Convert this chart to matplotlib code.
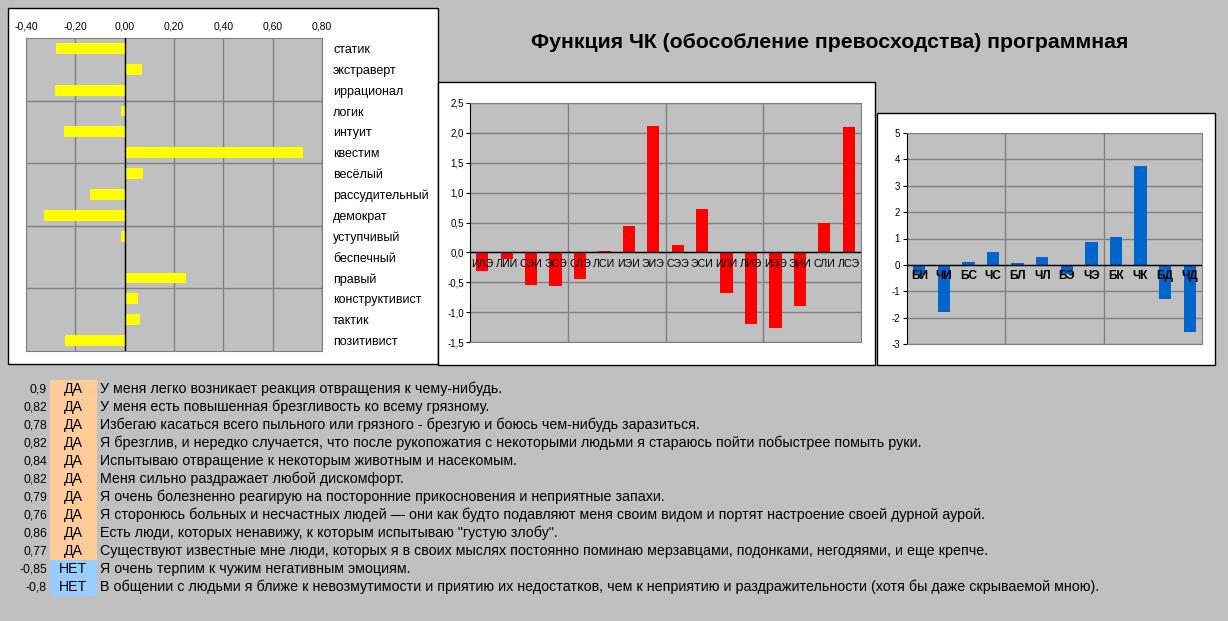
import numpy as np
import matplotlib
matplotlib.use('Agg')
import matplotlib.pyplot as plt
from matplotlib.patches import Rectangle

plt.rcParams['font.family'] = ['Liberation Sans', 'DejaVu Sans']
plt.rcParams['axes.unicode_minus'] = False

W, H = 1228, 621

# признаки Рейнина
traits = ['статик', 'экстраверт', 'иррационал', 'логик', 'интуит', 'квестим',
          'весёлый', 'рассудительный', 'демократ', 'уступчивый', 'беспечный',
          'правый', 'конструктивист', 'тактик', 'позитивист']
trait_vals = [-0.28, 0.072, -0.283, -0.014, -0.246, 0.721, 0.076, -0.14,
              -0.328, -0.015, 0.002, 0.248, 0.056, 0.061, -0.242]

# типы
types = ['ИЛЭ', 'ЛИИ', 'СЭИ', 'ЭСЭ', 'СЛЭ', 'ЛСИ', 'ИЭИ', 'ЭИЭ',
         'СЭЭ', 'ЭСИ', 'ИЛИ', 'ЛИЭ', 'ИЭЭ', 'ЭИИ', 'СЛИ', 'ЛСЭ']
type_vals = [-0.31, -0.11, -0.54, -0.56, -0.445, 0.02, 0.445, 2.11,
             0.13, 0.73, -0.68, -1.195, -1.26, -0.895, 0.495, 2.10]

# функции
funcs = ['БИ', 'ЧИ', 'БС', 'ЧС', 'БЛ', 'ЧЛ', 'БЭ', 'ЧЭ', 'БК', 'ЧК', 'БД', 'ЧД']
func_vals = [-0.4, -1.77, 0.1, 0.505, 0.06, 0.29, -0.33, 0.86, 1.05, 3.74, -1.31, -2.55]

title = 'Функция ЧК (обособление превосходства) программная'

# вопросы
scores = [0.9, 0.82, 0.78, 0.82, 0.84, 0.82, 0.79, 0.76, 0.86, 0.77, -0.85, -0.8]
answers = ['ДА', 'ДА', 'ДА', 'ДА', 'ДА', 'ДА', 'ДА', 'ДА', 'ДА', 'ДА', 'НЕТ', 'НЕТ']
statements = [
    'У меня легко возникает реакция отвращения к чему-нибудь.',
    'У меня есть повышенная брезгливость ко всему грязному.',
    'Избегаю касаться всего пыльного или грязного - брезгую и боюсь чем-нибудь заразиться.',
    'Я брезглив, и нередко случается, что после рукопожатия с некоторыми людьми я стараюсь пойти побыстрее помыть руки.',
    'Испытываю отвращение к некоторым животным и насекомым.',
    'Меня сильно раздражает любой дискомфорт.',
    'Я очень болезненно реагирую на посторонние прикосновения и неприятные запахи.',
    'Я сторонюсь больных и несчастных людей — они как будто подавляют меня своим видом и портят настроение своей дурной аурой.',
    'Есть люди, которых ненавижу, к которым испытываю "густую злобу".',
    'Существуют известные мне люди, которых я в своих мыслях постоянно поминаю мерзавцами, подонками, негодяями, и еще крепче.',
    'Я очень терпим к чужим негативным эмоциям.',
    'В общении с людьми я ближе к невозмутимости и приятию их недостатков, чем к неприятию и раздражительности (хотя бы даже скрываемой мною).',
]

GRAY = '#C0C0C0'
GRID = '#808080'


def comma(v, nd):
    return f'{v:.{nd}f}'.replace('.', ',')


fig = plt.figure(figsize=(W / 100, H / 100), dpi=100, facecolor=GRAY)
bg = fig.add_axes([0, 0, 1, 1])
bg.set_xlim(0, W)
bg.set_ylim(H, 0)
bg.axis('off')


def frame(x0, y0, x1, y1):
    bg.add_patch(Rectangle((x0, y0), x1 - x0, y1 - y0, facecolor='white',
                           edgecolor='black', lw=1))


def px_axes(x0, y0, x1, y1):
    return fig.add_axes([x0 / W, 1 - y1 / H, (x1 - x0) / W, (y1 - y0) / H])


def style(ax):
    ax.set_facecolor(GRAY)
    for s in ax.spines.values():
        s.set_color(GRID)
    ax.tick_params(which='minor', length=0)


frame(8, 8, 438, 364)
frame(438, 82, 875, 365)
frame(877, 113, 1215, 365)

# --- признаки ---
ax1 = px_axes(26, 38, 322, 351)
style(ax1)
yy = np.arange(len(traits))
ax1.barh(yy, trait_vals, height=0.52, color='#FFFF00', zorder=2)
ax1.set_xlim(-0.4, 0.8)
ax1.set_ylim(len(traits) - 0.5, -0.5)
xt = np.arange(-0.4, 0.81, 0.2)
ax1.set_xticks(xt)
ax1.set_xticklabels([comma(v, 2) for v in xt])
ax1.xaxis.tick_top()
ax1.tick_params(axis='x', length=0, pad=5, labelsize=7.5)
ax1.set_yticks(yy)
ax1.set_yticklabels(traits)
ax1.yaxis.tick_right()
ax1.tick_params(axis='y', which='major', length=0, pad=8, labelsize=9)
ax1.set_yticks([2.5, 5.5, 8.5, 11.5], minor=True)
ax1.grid(axis='x', color=GRID, lw=1, zorder=1)
ax1.grid(axis='y', which='minor', color=GRID, lw=1, zorder=1)
ax1.set_axisbelow(True)
ax1.axvline(0, color='black', lw=1, zorder=3)

# --- типы ---
ax2 = px_axes(470, 103, 861, 342)
style(ax2)
xx = np.arange(len(types))
ax2.bar(xx, type_vals, width=0.5, color='#FF0000', zorder=2)
ax2.set_xlim(-0.5, len(types) - 0.5)
ax2.set_ylim(-1.5, 2.5)
yt = np.arange(-1.5, 2.51, 0.5)
ax2.set_yticks(yt)
ax2.set_yticklabels([comma(v, 1) for v in yt])
ax2.tick_params(axis='y', length=3, pad=1.5, labelsize=7)
ax2.set_xticks([])
ax2.set_xticks([3.5, 7.5, 11.5], minor=True)
ax2.grid(axis='y', color=GRID, lw=1)
ax2.grid(axis='x', which='minor', color=GRID, lw=1)
ax2.set_axisbelow(True)
ax2.spines['left'].set_color('black')
ax2.axhline(0, color='black', lw=1, zorder=3)
for i, t in enumerate(types):
    ax2.annotate(t, (i, 0), xytext=(0, -5), textcoords='offset points',
                 ha='center', va='top', fontsize=7.7, zorder=5)

# --- функции ---
ax3 = px_axes(907, 133, 1202, 344)
style(ax3)
xx = np.arange(len(funcs))
ax3.bar(xx, func_vals, width=0.5, color='#0066CC', zorder=2)
ax3.set_xlim(-0.5, len(funcs) - 0.5)
ax3.set_ylim(-3, 5)
ax3.set_yticks(range(-3, 6))
ax3.tick_params(axis='y', length=3, pad=2, labelsize=7)
ax3.set_xticks([])
ax3.set_xticks([3.5, 7.5], minor=True)
ax3.grid(axis='y', color=GRID, lw=1)
ax3.grid(axis='x', which='minor', color=GRID, lw=1)
ax3.set_axisbelow(True)
ax3.spines['left'].set_color('black')
ax3.axhline(0, color='black', lw=1, zorder=3)
for i, t in enumerate(funcs):
    ax3.annotate(t, (i, 0), xytext=(0, -4), textcoords='offset points',
                 ha='center', va='top', fontsize=8.6, fontweight='bold', zorder=5)

# --- заголовок ---
bg.text(830, 43, title, ha='center', va='center', fontsize=15.3, fontweight='bold')

# --- вопросы ---
for i, (sc, ans, st) in enumerate(zip(scores, answers, statements)):
    yc = 389 + 18 * i
    col = '#FFCC99' if ans == 'ДА' else '#99CCFF'
    bg.add_patch(Rectangle((50, yc - 9), 47, 18, facecolor=col, edgecolor='none'))
    bg.text(47, yc, f'{sc:g}'.replace('.', ','), ha='right', va='center', fontsize=8.8)
    bg.text(73, yc, ans, ha='center', va='center', fontsize=10.2)
    bg.text(100, yc, st, ha='left', va='center', fontsize=10.25)

fig.savefig('out.png', dpi=100, facecolor=GRAY)
